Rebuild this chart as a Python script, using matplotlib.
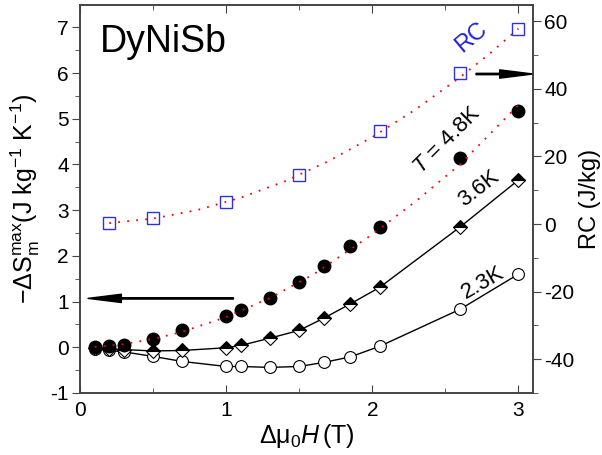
import matplotlib
matplotlib.use('Agg')
import matplotlib.pyplot as plt
from matplotlib.ticker import MultipleLocator

plt.rcParams['font.family'] = ['Liberation Sans', 'DejaVu Sans']
plt.rcParams['mathtext.fontset'] = 'custom'
plt.rcParams['mathtext.rm'] = 'Liberation Sans'
plt.rcParams['mathtext.it'] = 'Liberation Sans:italic'
plt.rcParams['axes.unicode_minus'] = False

# поле (Т)
field = [0.1, 0.2, 0.3, 0.5, 0.7, 1.0, 1.1, 1.3, 1.5, 1.67, 1.85, 2.05, 2.6, 3.0]
# -dS_max (J/kg K) для трёх температур
ds_48 = [0.01, 0.03, 0.06, 0.19, 0.37, 0.68, 0.82, 1.08, 1.42, 1.77, 2.22, 2.63, 4.14, 5.18]
ds_36 = [-0.01, -0.03, -0.05, -0.08, -0.07, -0.01, 0.04, 0.20, 0.37, 0.64, 0.95, 1.31, 2.63, 3.66]
ds_23 = [-0.04, -0.07, -0.10, -0.20, -0.31, -0.42, -0.42, -0.44, -0.42, -0.33, -0.21, 0.02, 0.83, 1.60]

# точки подгонки (красная пунктирная) для 4.8K
fit48_x = [0.1, 0.3, 0.5, 0.7, 1.0, 1.3, 1.6, 2.0, 2.3, 2.6, 3.0]
fit48_y = [0.01, 0.07, 0.18, 0.34, 0.66, 1.08, 1.60, 2.47, 3.20, 4.00, 5.30]

# RC (J/kg)
rc_field = [0.2, 0.5, 1.0, 1.5, 2.05, 2.6, 3.0]
rc = [0.3, 1.8, 6.5, 14.5, 27.5, 44.7, 57.8]
fitrc_x = [0.2, 0.5, 0.8, 1.1, 1.4, 1.7, 2.0, 2.3, 2.6, 2.8, 3.0]
fitrc_y = [0.26, 1.6, 4.1, 7.8, 12.6, 18.6, 25.7, 34.0, 43.4, 50.3, 57.8]

spine_c = '#444444'
dots = (0, (1, 4))

fig = plt.figure(figsize=(6.02, 4.55), dpi=100)
ax = fig.add_axes([0.1329, 0.1363, 0.7525, 0.8527])
ax2 = ax.twinx()

# 2.3K
ax.plot(field, ds_23, '-', color='black', lw=1, marker='o', ms=8.5,
        mfc='white', mec='black', mew=0.8, zorder=3)
# 3.6K
ax.plot(field, ds_36, '-', color='black', lw=1, marker='D', ms=6.7,
        fillstyle='top', mfc='black', markerfacecoloralt='white',
        mec='black', mew=0.8, zorder=4)
# 4.8K
ax.plot(field, ds_48, 'o', color='black', ms=9, zorder=5)
ax.plot(fit48_x, fit48_y, color='red', ls=dots, lw=1.3, zorder=6)

# RC
ax2.plot(rc_field, rc, 's', ms=8.5, mfc='none', mec='#3030e0', mew=1, zorder=3)
ax2.plot(fitrc_x, fitrc_y, color='red', ls=dots, lw=1.3, zorder=4)

ax.set_xlim(0, 3.1)
ax.set_ylim(-1, 7.49)
ax2.set_ylim(-50, 64.8)

ax.xaxis.set_major_locator(MultipleLocator(1))
ax.xaxis.set_minor_locator(MultipleLocator(0.5))
ax.yaxis.set_major_locator(MultipleLocator(1))
ax.yaxis.set_minor_locator(MultipleLocator(0.5))
ax2.yaxis.set_major_locator(MultipleLocator(20))
ax2.yaxis.set_minor_locator(MultipleLocator(10))

ax.tick_params(axis='x', which='both', direction='in', top=True, colors=spine_c,
               labelcolor='black', labelsize=15, pad=6)
ax.tick_params(axis='x', which='major', length=6)
ax.tick_params(axis='x', which='minor', length=3.5)
ax.tick_params(axis='y', which='both', direction='out', colors=spine_c,
               labelcolor='black', labelsize=15, pad=2)
ax.tick_params(axis='y', which='major', length=6)
ax.tick_params(axis='y', which='minor', length=3.5)
ax2.tick_params(axis='y', which='both', direction='out', colors=spine_c,
                labelcolor='black', labelsize=15, pad=2)
ax2.tick_params(axis='y', which='major', length=6)
ax2.tick_params(axis='y', which='minor', length=3.5)

for a in (ax, ax2):
    for s in a.spines.values():
        s.set_color(spine_c)
        s.set_linewidth(1.2)

ax.set_xlabel(r'$\Delta\mathrm{\mu}_0\mathit{H}\,$(T)', fontsize=18, labelpad=1)
ax.set_ylabel('\u2212' + r'$\Delta\mathrm{S}_\mathrm{m}^\mathrm{max}$(J kg$^{-1}$ K$^{-1}$)',
              fontsize=18, labelpad=6)
ax2.set_ylabel('RC (J/kg)', fontsize=17, labelpad=3)

ax.text(0.137, 6.46, 'DyNiSb', fontsize=27, ha='left', va='baseline')
ax.text(2.68, 6.77, 'RC', fontsize=17, color='#2020e0', rotation=40,
        ha='center', va='center')
ax.text(2.51, 4.53, r'$\mathit{T}$ = 4.8K', fontsize=16, rotation=45,
        ha='center', va='center')
ax.text(2.73, 3.48, '3.6K', fontsize=16, rotation=38, ha='center', va='center')
ax.text(2.76, 1.42, '2.3K', fontsize=16, rotation=30, ha='center', va='center')

arrow = dict(facecolor='black', edgecolor='black', width=1.0, headwidth=6,
             headlength=24, shrink=0)
ax.annotate('', xy=(0.055, 1.07), xytext=(1.05, 1.07), arrowprops=arrow)
ax.annotate('', xy=(3.1, 5.98), xytext=(2.71, 5.98), arrowprops=arrow)

fig.savefig('out.png', dpi=100)
